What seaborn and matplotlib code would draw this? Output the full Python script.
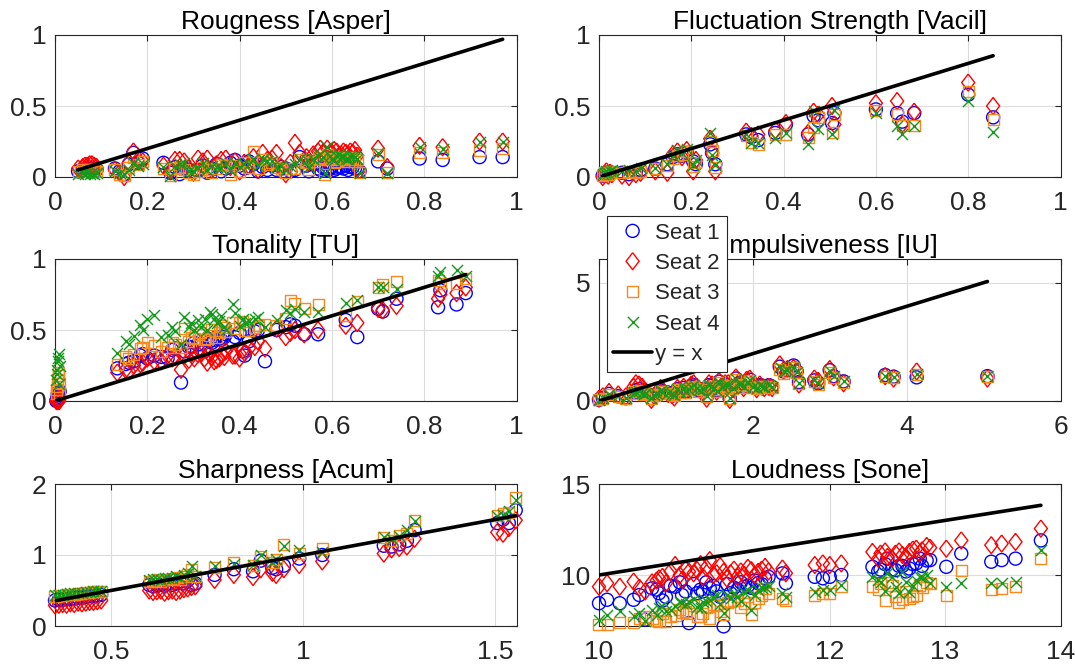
import numpy as np
import matplotlib
matplotlib.use("Agg")
import matplotlib.pyplot as plt
from matplotlib.ticker import FuncFormatter
import seaborn as sns

# ---------------- data ----------------
seat_labels = ["Seat 1", "Seat 2", "Seat 3", "Seat 4"]
line_label = "y = x"

# Roughness [Asper]
rough_x = [0.05, 0.06, 0.065, 0.07, 0.075, 0.08, 0.085, 0.09,
           0.13, 0.14, 0.15, 0.16, 0.17, 0.18, 0.19,
           0.235, 0.25, 0.27, 0.28, 0.30, 0.31, 0.32, 0.33, 0.34, 0.36, 0.38, 0.39, 0.40, 0.41, 0.43, 0.44, 0.45, 0.47, 0.48, 0.49, 0.50, 0.52,
           0.53, 0.55, 0.56, 0.57, 0.58, 0.585, 0.59, 0.60, 0.61, 0.62, 0.63, 0.64, 0.65, 0.66,
           0.70, 0.72, 0.79, 0.84, 0.92, 0.97,
           0.26, 0.29, 0.35, 0.37, 0.42, 0.46, 0.51, 0.545, 0.575, 0.595, 0.605, 0.615, 0.625, 0.635, 0.645, 0.655]
rough_s1 = [0.04, 0.05, 0.05, 0.06, 0.05, 0.06, 0.05, 0.05,
            0.06, 0.04, 0.02, 0.09, 0.17, 0.10, 0.13,
            0.10, 0.03, 0.02, 0.06, 0.04, 0.05, 0.08, 0.03, 0.06, 0.04, 0.10, 0.12, 0.08, 0.06, 0.09, 0.04, 0.07, 0.08, 0.05, 0.07, 0.06, 0.05,
            0.14, 0.04, 0.09, 0.06, 0.07, 0.06, 0.05, 0.07, 0.06, 0.07, 0.08, 0.07, 0.06, 0.04,
            0.11, 0.06, 0.13, 0.12, 0.14, 0.14,
            0.07, 0.05, 0.09, 0.06, 0.11, 0.05, 0.04, 0.08, 0.05, 0.06, 0.05, 0.07, 0.06, 0.05, 0.07, 0.06]
rough_s2 = [0.06, 0.07, 0.08, 0.08, 0.09, 0.09, 0.08, 0.07,
            0.05, 0.03, 0.00, 0.10, 0.18, 0.12, 0.11,
            0.08, 0.04, 0.12, 0.11, 0.03, 0.13, 0.11, 0.13, 0.05, 0.12, 0.07, 0.11, 0.04, 0.10, 0.14, 0.05, 0.17, 0.13, 0.17, 0.07, 0.02, 0.24,
            0.17, 0.10, 0.16, 0.18, 0.17, 0.13, 0.20, 0.17, 0.18, 0.16, 0.17, 0.18, 0.19, 0.05,
            0.20, 0.07, 0.22, 0.21, 0.25, 0.25,
            0.12, 0.06, 0.09, 0.13, 0.08, 0.12, 0.10, 0.14, 0.20, 0.17, 0.19, 0.15, 0.18, 0.16, 0.17, 0.15]
rough_s3 = [0.04, 0.05, 0.04, 0.05, 0.05, 0.04, 0.05, 0.04,
            0.05, 0.02, 0.01, 0.07, 0.14, 0.09, 0.11,
            0.06, 0.01, 0.07, 0.05, 0.02, 0.04, 0.07, 0.05, 0.03, 0.09, 0.02, 0.08, 0.04, 0.10, 0.18, 0.06, 0.12, 0.10, 0.07, 0.05, 0.03, 0.06,
            0.12, 0.05, 0.11, 0.13, 0.14, 0.02, 0.16, 0.12, 0.11, 0.13, 0.12, 0.14, 0.11, 0.03,
            0.16, 0.03, 0.17, 0.17, 0.19, 0.20,
            0.06, 0.03, 0.06, 0.08, 0.07, 0.09, 0.06, 0.10, 0.12, 0.13, 0.10, 0.14, 0.12, 0.11, 0.13, 0.12]
rough_s4 = [0.02, 0.03, 0.02, 0.03, 0.02, 0.03, 0.02, 0.03,
            0.04, 0.03, 0.02, 0.05, 0.10, 0.08, 0.09,
            0.07, 0.01, 0.09, 0.10, 0.04, 0.06, 0.10, 0.05, 0.08, 0.06, 0.05, 0.10, 0.07, 0.09, 0.13, 0.08, 0.13, 0.11, 0.07, 0.08, 0.05, 0.09,
            0.13, 0.07, 0.13, 0.15, 0.14, 0.03, 0.21, 0.13, 0.15, 0.14, 0.13, 0.15, 0.14, 0.03,
            0.17, 0.03, 0.21, 0.20, 0.25, 0.25,
            0.08, 0.04, 0.07, 0.10, 0.09, 0.11, 0.08, 0.12, 0.16, 0.15, 0.12, 0.16, 0.14, 0.13, 0.15, 0.13]

# Fluctuation Strength [Vacil]
fluct_x = [0.008, 0.012, 0.016, 0.02, 0.024, 0.028,
           0.05, 0.065, 0.08, 0.09,
           0.122, 0.148, 0.16, 0.17, 0.18, 0.19,
           0.204, 0.21,
           0.241, 0.245, 0.252,
           0.319, 0.33, 0.345,
           0.382, 0.405,
           0.453, 0.465, 0.475,
           0.505, 0.51,
           0.60, 0.646, 0.657, 0.683, 0.80, 0.854]
fluct_s1 = [0.01, 0.02, 0.03, 0.015, 0.02, 0.03,
            0.03, 0.02, 0.04, 0.05,
            0.06, 0.09, 0.14, 0.16, 0.15, 0.17,
            0.11, 0.09,
            0.23, 0.17, 0.09,
            0.30, 0.28, 0.26,
            0.31, 0.37,
            0.30, 0.43, 0.40,
            0.38, 0.45,
            0.476, 0.45, 0.39, 0.45, 0.58, 0.42]
fluct_s2 = [0.0, 0.02, 0.04, 0.01, 0.03, 0.02,
            0.01, 0.0, 0.02, 0.03,
            0.04, 0.03, 0.16, 0.18, 0.14, 0.19,
            0.04, 0.12,
            0.27, 0.17, 0.04,
            0.32, 0.29, 0.30,
            0.33, 0.38,
            0.31, 0.46, 0.44,
            0.50, 0.37,
            0.52, 0.535, 0.37, 0.46, 0.665, 0.50]
fluct_s3 = [0.01, 0.03, 0.02, 0.02, 0.035, 0.04,
            0.03, 0.04, 0.03, 0.04,
            0.06, 0.08, 0.13, 0.15, 0.16, 0.18,
            0.075, 0.10,
            0.25, 0.19, 0.07,
            0.29, 0.24, 0.229,
            0.30, 0.30,
            0.276, 0.35, 0.42,
            0.31, 0.44,
            0.47, 0.44, 0.36, 0.36, 0.60, 0.405]
fluct_s4 = [0.02, 0.03, 0.04, 0.03, 0.045, 0.05,
            0.04, 0.05, 0.04, 0.06,
            0.06, 0.09, 0.15, 0.19, 0.17, 0.20,
            0.087, 0.12,
            0.31, 0.158, 0.087,
            0.30, 0.24, 0.24,
            0.276, 0.31,
            0.23, 0.465, 0.335,
            0.30, 0.47,
            0.45, 0.36, 0.30, 0.36, 0.535, 0.32]

# Tonality [TU]
tonal_x = [0.003, 0.004, 0.005, 0.006, 0.007, 0.008, 0.009, 0.01,
           0.135, 0.153, 0.171, 0.185, 0.2, 0.215, 0.244, 0.254, 0.273, 0.28,
           0.295, 0.302, 0.316, 0.324, 0.335, 0.345, 0.356, 0.367, 0.385, 0.407,
           0.411, 0.433, 0.455, 0.48, 0.51, 0.52, 0.54, 0.57, 0.63, 0.655,
           0.70, 0.71, 0.74, 0.83, 0.835, 0.87, 0.89,
           0.16, 0.19, 0.23, 0.26, 0.29, 0.31, 0.33, 0.34, 0.35, 0.36, 0.37, 0.39, 0.40, 0.42, 0.44, 0.50]
tonal_s1 = [0.0, 0.01, 0.02, 0.05, 0.04, 0.03, 0.06, 0.07,
            0.23, 0.26, 0.28, 0.32, 0.30, 0.32, 0.30, 0.36, 0.13, 0.35,
            0.38, 0.41, 0.40, 0.35, 0.42, 0.43, 0.44, 0.45, 0.42, 0.35,
            0.32, 0.49, 0.28, 0.50, 0.54, 0.53, 0.47, 0.47, 0.57, 0.45,
            0.65, 0.63, 0.72, 0.66, 0.78, 0.68, 0.76,
            0.27, 0.33, 0.31, 0.37, 0.38, 0.40, 0.44, 0.41, 0.45, 0.43, 0.47, 0.45, 0.48, 0.42, 0.50, 0.52]
tonal_s2 = [0.0, 0.0, 0.0, 0.01, 0.01, 0.0, 0.0, 0.02,
            0.20, 0.22, 0.25, 0.26, 0.30, 0.28, 0.32, 0.30, 0.22, 0.32,
            0.33, 0.30, 0.34, 0.30, 0.33, 0.28, 0.30, 0.31, 0.32, 0.36,
            0.34, 0.38, 0.37, 0.51, 0.48, 0.50, 0.47, 0.50, 0.53, 0.55,
            0.65, 0.64, 0.67, 0.72, 0.75, 0.76, 0.80,
            0.21, 0.27, 0.28, 0.31, 0.29, 0.33, 0.27, 0.31, 0.29, 0.33, 0.35, 0.32, 0.30, 0.37, 0.42, 0.45]
tonal_s3 = [0.05, 0.08, 0.10, 0.15, 0.18, 0.20, 0.05, 0.12,
            0.26, 0.31, 0.33, 0.37, 0.41, 0.39, 0.38, 0.41, 0.38, 0.51,
            0.45, 0.44, 0.48, 0.43, 0.46, 0.50, 0.48, 0.52, 0.55, 0.56,
            0.50, 0.52, 0.54, 0.53, 0.71, 0.69, 0.65, 0.68, 0.60, 0.70,
            0.80, 0.82, 0.84, 0.85, 0.83, 0.83, 0.86,
            0.30, 0.38, 0.35, 0.40, 0.42, 0.47, 0.44, 0.50, 0.45, 0.53, 0.49, 0.51, 0.55, 0.50, 0.53, 0.58]
tonal_s4 = [0.15, 0.19, 0.22, 0.28, 0.30, 0.33, 0.12, 0.25,
            0.335, 0.42, 0.46, 0.535, 0.58, 0.605, 0.465, 0.52, 0.40, 0.59,
            0.55, 0.50, 0.52, 0.58, 0.63, 0.58, 0.56, 0.52, 0.68, 0.58,
            0.55, 0.58, 0.52, 0.57, 0.62, 0.65, 0.63, 0.63, 0.69, 0.71,
            0.80, 0.80, 0.79, 0.88, 0.91, 0.92, 0.88,
            0.40, 0.50, 0.45, 0.49, 0.52, 0.57, 0.50, 0.61, 0.55, 0.60, 0.50, 0.62, 0.53, 0.56, 0.59, 0.64]

# Impulsiveness [IU]
impul_x = [0.0, 0.05, 0.13, 0.25, 0.35, 0.48, 0.52, 0.56, 0.61, 0.68,
           0.75, 0.83, 0.9, 0.98, 1.05, 1.1, 1.16, 1.23, 1.3, 1.4,
           1.43, 1.5, 1.56, 1.6, 1.68, 1.7, 1.78, 1.85, 1.92, 2.0,
           2.09, 2.15, 2.21, 2.35, 2.4, 2.45, 2.53, 2.57, 2.6, 2.8,
           2.85, 3.0, 3.05, 3.18, 3.72, 3.83, 4.13, 5.05,
           0.45, 0.58, 0.72, 0.8, 0.95, 1.02, 1.13, 1.2, 1.27, 1.35,
           1.47, 1.53, 1.64, 1.74, 1.82, 1.88, 1.96, 2.05, 2.12, 2.25]
impul_s1 = [0.05, 0.12, 0.3, 0.2, 0.12, 0.45, 0.5, 0.4, 0.33, 0.12,
            0.3, 0.4, 0.35, 0.25, 0.4, 0.55, 0.5, 0.67, 0.45, 0.2,
            0.67, 0.55, 0.82, 0.6, 0.67, 0.12, 0.95, 0.7, 0.83, 0.6,
            0.67, 0.6, 0.67, 1.45, 1.25, 1.3, 1.5, 1.25, 0.8, 0.87,
            0.75, 1.3, 1.05, 0.83, 1.1, 1.03, 1.0, 1.05,
            0.35, 0.3, 0.25, 0.45, 0.3, 0.5, 0.4, 0.6, 0.55, 0.5,
            0.65, 0.45, 0.7, 0.55, 0.75, 0.6, 0.9, 0.55, 0.65, 0.6]
impul_s2 = [0.1, 0.2, 0.38, 0.28, 0.2, 0.75, 0.7, 0.6, 0.4, 0.05,
            0.35, 0.45, 0.3, 0.15, 0.45, 0.6, 0.55, 0.75, 0.5, 0.1,
            0.75, 0.6, 0.85, 0.65, 0.75, 0.05, 1.0, 0.75, 0.9, 0.65,
            0.7, 0.55, 0.6, 1.55, 1.3, 1.35, 1.4, 1.3, 0.7, 0.95,
            0.85, 1.35, 1.0, 0.75, 1.05, 0.95, 1.25, 0.95,
            0.6, 0.4, 0.2, 0.55, 0.25, 0.55, 0.45, 0.7, 0.6, 0.4,
            0.7, 0.4, 0.75, 0.5, 0.8, 0.55, 0.95, 0.5, 0.6, 0.55]
impul_s3 = [0.05, 0.1, 0.28, 0.18, 0.1, 0.42, 0.45, 0.38, 0.3, 0.1,
            0.28, 0.38, 0.33, 0.22, 0.38, 0.5, 0.48, 0.63, 0.42, 0.18,
            0.63, 0.5, 0.78, 0.55, 0.63, 0.1, 0.9, 0.65, 0.78, 0.58,
            0.63, 0.58, 0.63, 1.35, 1.18, 1.25, 1.42, 1.2, 0.72, 0.82,
            0.7, 1.22, 1.0, 0.78, 1.05, 0.98, 1.1, 1.02,
            0.33, 0.28, 0.23, 0.42, 0.28, 0.47, 0.38, 0.56, 0.52, 0.47,
            0.6, 0.42, 0.65, 0.52, 0.7, 0.57, 0.85, 0.52, 0.62, 0.57]
impul_s4 = [0.05, 0.12, 0.3, 0.2, 0.12, 0.4, 0.42, 0.35, 0.32, 0.12,
            0.3, 0.4, 0.35, 0.25, 0.4, 0.55, 0.5, 0.67, 0.45, 0.2,
            0.67, 0.55, 0.8, 0.6, 0.67, 0.12, 0.92, 0.7, 0.82, 0.6,
            0.67, 0.6, 0.67, 1.42, 1.25, 1.3, 1.45, 1.22, 0.78, 0.87,
            0.75, 1.28, 1.05, 0.83, 1.05, 1.0, 1.12, 1.05,
            0.34, 0.3, 0.25, 0.44, 0.3, 0.5, 0.4, 0.58, 0.54, 0.5,
            0.63, 0.44, 0.68, 0.54, 0.73, 0.6, 0.88, 0.55, 0.65, 0.6]

# Sharpness [Acum]
sharp_x = [0.355, 0.365, 0.375, 0.385, 0.395, 0.405, 0.415, 0.425, 0.435, 0.445, 0.455, 0.465, 0.475,
           0.60, 0.61, 0.62, 0.63, 0.64, 0.65, 0.66, 0.67, 0.68, 0.69, 0.70, 0.71, 0.72,
           0.77, 0.82, 0.87, 0.89, 0.92, 0.93, 0.95, 0.99, 1.05,
           1.21, 1.23, 1.25, 1.27, 1.29,
           1.505, 1.52, 1.535, 1.553]
sharp_s1 = [0.36, 0.37, 0.37, 0.38, 0.38, 0.39, 0.40, 0.40, 0.41, 0.42, 0.42, 0.43, 0.44,
            0.58, 0.56, 0.57, 0.58, 0.57, 0.60, 0.58, 0.60, 0.62, 0.60, 0.64, 0.58, 0.60,
            0.72, 0.80, 0.77, 0.92, 0.82, 0.80, 0.85, 0.95, 1.00,
            1.13, 1.12, 1.15, 1.20, 1.35,
            1.45, 1.50, 1.45, 1.63]
sharp_s2 = [0.29, 0.30, 0.31, 0.30, 0.32, 0.31, 0.33, 0.32, 0.33, 0.34, 0.34, 0.35, 0.36,
            0.50, 0.48, 0.49, 0.50, 0.47, 0.49, 0.50, 0.48, 0.50, 0.52, 0.53, 0.55, 0.56,
            0.65, 0.72, 0.69, 0.80, 0.75, 0.72, 0.80, 0.86, 0.91,
            1.02, 1.08, 1.10, 1.12, 1.23,
            1.32, 1.30, 1.38, 1.49]
sharp_s3 = [0.42, 0.43, 0.43, 0.44, 0.45, 0.45, 0.46, 0.46, 0.47, 0.47, 0.48, 0.48, 0.49,
            0.63, 0.64, 0.65, 0.63, 0.66, 0.65, 0.67, 0.68, 0.66, 0.70, 0.72, 0.80, 0.70,
            0.83, 0.90, 0.85, 0.98, 0.90, 0.93, 1.15, 1.02, 1.09,
            1.25, 1.20, 1.28, 1.30, 1.49,
            1.56, 1.58, 1.60, 1.81]
sharp_s4 = [0.43, 0.44, 0.44, 0.45, 0.46, 0.46, 0.47, 0.47, 0.48, 0.48, 0.49, 0.49, 0.50,
            0.65, 0.66, 0.66, 0.65, 0.68, 0.67, 0.68, 0.70, 0.68, 0.72, 0.74, 0.84, 0.71,
            0.84, 0.88, 0.86, 1.00, 0.90, 0.95, 1.12, 1.07, 1.04,
            1.25, 1.22, 1.27, 1.35, 1.48,
            1.55, 1.57, 1.62, 1.77]

# Loudness [Sone]
loud_x = [10.0, 10.07, 10.18, 10.3, 10.4, 10.46, 10.52, 10.58, 10.66, 10.72,
          10.78, 10.85, 10.9, 10.96, 11.02, 11.08, 11.14, 11.2, 11.26, 11.32,
          11.38, 11.44, 11.59, 11.62, 11.87, 11.94, 12.0, 12.1, 12.37, 12.44,
          12.5, 12.57, 12.63, 12.69, 12.75, 12.8, 12.87, 13.01, 13.14, 13.4,
          13.49, 13.61, 13.83,
          10.35, 10.5, 10.55, 10.62, 10.7, 10.75, 10.82, 10.88, 10.93, 10.99,
          11.05, 11.11, 11.17, 11.23, 11.29, 11.35, 11.41, 11.47,
          12.42, 12.48, 12.54, 12.6, 12.66, 12.72, 12.78, 12.84]
loud_s1 = [8.45, 8.64, 8.45, 8.64, 7.55, 9.27, 9.0, 8.8, 9.36, 8.9,
           7.36, 9.0, 9.1, 9.27, 9.1, 7.18, 9.0, 9.2, 9.36, 9.3,
           9.55, 9.82, 10.09, 9.55, 9.9, 9.82, 9.9, 10.0, 10.45, 10.3,
           10.9, 10.27, 10.5, 10.36, 10.64, 10.5, 10.82, 10.45, 11.18, 10.73,
           10.82, 10.9, 11.9,
           8.9, 9.2, 8.6, 9.4, 9.6, 9.1, 9.5, 9.2, 9.6, 9.4,
           8.8, 9.5, 9.3, 9.6, 9.4, 9.7, 9.5, 9.9,
           10.2, 10.6, 10.3, 10.5, 10.2, 10.6, 10.9, 10.8]
loud_s2 = [9.36, 9.55, 9.36, 9.64, 9.1, 9.6, 9.82, 9.55, 10.55, 9.73,
           10.18, 10.27, 9.9, 10.82, 10.1, 10.18, 10.1, 9.9, 10.0, 10.27,
           10.18, 10.45, 10.36, 10.1, 10.55, 10.64, 10.55, 10.64, 11.27, 11.18,
           11.0, 11.18, 11.1, 11.27, 11.45, 11.36, 11.5, 11.45, 11.9, 11.64,
           11.73, 11.82, 12.55,
           9.3, 9.7, 9.9, 10.2, 10.0, 10.3, 10.1, 10.6, 10.4, 10.0,
           10.5, 9.8, 10.3, 10.2, 10.4, 10.0, 10.3, 10.2,
           10.9, 11.3, 10.9, 11.3, 11.0, 11.4, 11.2, 11.6]
loud_s3 = [7.27, 7.27, 7.4, 7.4, 7.73, 7.6, 7.45, 7.45, 7.8, 7.95,
           7.9, 7.73, 7.9, 7.64, 8.3, 7.82, 8.55, 8.6, 8.45, 7.82,
           8.73, 9.27, 8.73, 8.6, 8.9, 9.0, 9.0, 9.36, 9.36, 9.55,
           9.6, 8.82, 8.64, 8.73, 8.9, 9.3, 9.55, 8.9, 10.27, 9.18,
           9.27, 9.36, 10.9,
           7.6, 7.5, 7.9, 7.7, 8.1, 8.0, 8.3, 7.7, 8.2, 8.4,
           8.0, 8.5, 8.6, 8.2, 8.8, 8.5, 8.9, 9.0,
           9.2, 8.6, 9.4, 8.5, 9.1, 8.8, 9.4, 9.6]
loud_s4 = [7.55, 7.82, 8.0, 7.73, 7.45, 8.09, 8.2, 8.0, 8.3, 8.45,
           8.5, 8.27, 8.5, 8.64, 8.9, 7.9, 8.73, 8.8, 9.09, 8.09,
           9.18, 9.36, 9.0, 8.8, 9.09, 9.18, 9.18, 9.45, 9.9, 9.64,
           10.09, 9.36, 10.18, 9.09, 9.73, 9.9, 9.55, 9.36, 9.55, 9.55,
           9.55, 9.64, 11.36,
           7.9, 7.8, 8.3, 8.1, 8.5, 8.4, 8.7, 8.2, 8.6, 8.8,
           8.4, 8.9, 9.0, 8.6, 9.2, 8.9, 9.3, 9.4,
           9.7, 9.1, 9.9, 9.0, 9.6, 9.4, 9.9, 10.0]

titles = ["Rougness [Asper]", "Fluctuation Strength [Vacil]", "Tonality [TU]",
          "Impulsiveness [IU]", "Sharpness [Acum]", "Loudness [Sone]"]

# ---------------- style ----------------
sns.set_style("white")
plt.rcParams["font.family"] = ["Liberation Sans", "DejaVu Sans"]

seat_colors = ["#0000ff", "#ff0000", "#f7891f", "#139a1a"]
diamond = [(0, 1), (0.77, 0), (0, -1), (-0.77, 0), (0, 1)]
seat_markers = ["o", diamond, "s", "x"]
seat_sizes = [88, 150, 63, 63]

W, H = 1075, 664
fig = plt.figure(figsize=(W / 100, H / 100), dpi=100)


def rect(l, t, w, h):
    return [l / W, 1 - (t + h) / H, w / W, h / H]


col_left = [55, 599]
row_top = [35, 259, 484]
aw, ah = 461.5, 142

panels = [
    (rough_x, [rough_s1, rough_s2, rough_s3, rough_s4], (0, 1), (0, 1), [0, 0.2, 0.4, 0.6, 0.8, 1], [0, 0.5, 1]),
    (fluct_x, [fluct_s1, fluct_s2, fluct_s3, fluct_s4], (0, 1), (0, 1), [0, 0.2, 0.4, 0.6, 0.8, 1], [0, 0.5, 1]),
    (tonal_x, [tonal_s1, tonal_s2, tonal_s3, tonal_s4], (0, 1), (0, 1), [0, 0.2, 0.4, 0.6, 0.8, 1], [0, 0.5, 1]),
    (impul_x, [impul_s1, impul_s2, impul_s3, impul_s4], (0, 6), (0, 6), [0, 2, 4, 6], [0, 5]),
    (sharp_x, [sharp_s1, sharp_s2, sharp_s3, sharp_s4], (0.355, 1.555), (0, 2), [0.5, 1, 1.5], [0, 1, 2]),
    (loud_x, [loud_s1, loud_s2, loud_s3, loud_s4], (10, 14), (7.2, 15), [10, 11, 12, 13, 14], [10, 15]),
]

fmt = FuncFormatter(lambda v, p: f"{v:g}")
axes = []
for k, (xs, ys, xl, yl, xt, yt) in enumerate(panels):
    r, c = divmod(k, 2)
    ax = fig.add_axes(rect(col_left[c], row_top[r], aw, ah))
    axes.append(ax)
    for i in range(4):
        kw = dict(s=seat_sizes[i], marker=seat_markers[i], linewidth=1.0,
                  legend=False, label=seat_labels[i], clip_on=False, zorder=3 + i)
        if seat_markers[i] == "x":
            kw["color"] = seat_colors[i]
        else:
            kw["facecolor"] = "none"
            kw["edgecolor"] = seat_colors[i]
        sns.scatterplot(x=np.array(xs), y=np.array(ys[i]), ax=ax, **kw)
    lo, hi = min(xs), max(xs)
    sns.lineplot(x=[lo, hi], y=[lo, hi], ax=ax, color="black", linewidth=2.6,
                 label=line_label, legend=False, zorder=10)
    ax.set_xlim(*xl)
    ax.set_ylim(*yl)
    ax.set_xticks(xt)
    ax.set_yticks(yt)
    ax.xaxis.set_major_formatter(fmt)
    ax.yaxis.set_major_formatter(fmt)
    ax.set_xlabel("")
    ax.set_ylabel("")
    ax.grid(True, color="#dcdcdc", linewidth=0.8)
    ax.set_axisbelow(True)
    ax.tick_params(direction="in", top=True, right=True, length=4, width=0.8,
                   colors="#262626", labelsize=19)
    ax.tick_params(axis="x", pad=10)
    ax.tick_params(axis="y", pad=6)
    for sp in ax.spines.values():
        sp.set_color("#262626")
        sp.set_linewidth(0.8)
    ax.set_title(titles[k], fontsize=19, pad=4, color="black")

handles, labels = axes[0].get_legend_handles_labels()
leg = fig.legend(handles, labels, loc="upper left",
                 bbox_to_anchor=(606.5 / W, 1 - 216 / H),
                 frameon=True, fancybox=False, edgecolor="#262626", framealpha=1,
                 fontsize=16, borderpad=0.3, labelspacing=0.42, handlelength=1.75,
                 handletextpad=0.15, borderaxespad=0, scatteryoffsets=[0.5])
leg.get_frame().set_linewidth(0.8)

fig.savefig("out.png", dpi=100)
